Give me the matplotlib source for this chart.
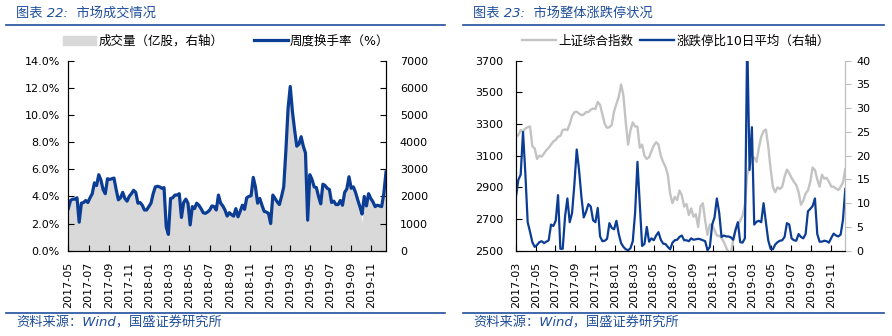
from matplotlib import pyplot as plt
import matplotlib.dates as mdates
from matplotlib.lines import Line2D
from matplotlib.patches import Patch
from matplotlib.ticker import FuncFormatter, MultipleLocator
import pandas as pd

plt.rcParams['font.family'] = ['DejaVu Sans', 'Noto Sans CJK SC']

# 图表22: 周度换手率 (%) 和 成交量 (亿股)
turnover = [3.1, 3.7, 3.8, 3.8, 3.9, 2.1, 3.5, 3.55, 3.7, 3.55,
            3.9, 4.2, 5.0, 4.8, 5.6, 5.2, 4.5, 4.2, 5.3, 5.25,
            5.3, 5.35, 4.5, 3.75, 3.9, 4.3, 3.85, 3.65, 4.0, 4.2,
            4.45, 4.3, 3.5, 3.55, 3.35, 3.0, 3.0, 3.25, 3.5, 4.2,
            4.7, 4.75, 4.7, 4.6, 4.65, 1.75, 1.2, 3.85, 3.9, 4.1,
            4.1, 4.2, 2.45, 3.55, 3.8, 3.5, 1.9, 3.25, 3.1, 3.5,
            3.35, 3.1, 2.8, 2.75, 2.85, 3.0, 3.3, 3.25, 3.0, 4.1,
            3.5, 3.3, 3.0, 2.55, 2.8, 2.65, 2.55, 3.1, 2.5, 2.9,
            3.35, 3.05, 3.9, 4.0, 4.05, 5.4, 4.7, 3.5, 3.85, 3.35,
            2.9, 2.85, 2.75, 2.0, 4.1, 3.85, 3.6, 3.4, 4.0, 4.7,
            7.4, 10.5, 12.1, 10.25, 8.9, 7.7, 7.85, 8.4, 7.7, 7.2,
            2.25, 5.6, 5.25, 4.7, 4.65, 4.0, 3.45, 4.9, 4.8, 4.6,
            4.5, 3.55, 3.65, 3.4, 3.4, 3.7, 3.35, 4.3, 4.55, 5.45,
            4.6, 4.7, 4.3, 3.75, 3.25, 2.7, 4.0, 3.3, 4.2, 3.85,
            3.6, 3.25, 3.35, 3.3, 3.25, 4.2, 5.8]
volume = [1520, 1830, 1880, 1880, 1920, 1030, 1730, 1750, 1820, 1750,
          1920, 2080, 2450, 2380, 2760, 2570, 2220, 2070, 2620, 2600,
          2620, 2640, 2220, 1850, 1930, 2120, 1900, 1800, 1970, 2080,
          2200, 2120, 1720, 1750, 1650, 1470, 1480, 1600, 1730, 2080,
          2320, 2350, 2320, 2280, 2300, 850, 580, 1900, 1920, 2020,
          2030, 2070, 1200, 1750, 1880, 1720, 920, 1600, 1530, 1720,
          1650, 1530, 1380, 1350, 1400, 1480, 1630, 1600, 1480, 2020,
          1720, 1620, 1480, 1250, 1380, 1300, 1250, 1530, 1230, 1430,
          1650, 1500, 1920, 1980, 2000, 2670, 2320, 1720, 1900, 1650,
          1430, 1400, 1350, 980, 2020, 1900, 1780, 1680, 1980, 2320,
          3650, 5200, 5980, 5080, 4400, 3800, 3880, 4150, 3800, 3560,
          1100, 2770, 2600, 2320, 2300, 1970, 1700, 2420, 2370, 2280,
          2220, 1750, 1800, 1680, 1680, 1830, 1650, 2120, 2250, 2700,
          2280, 2320, 2120, 1850, 1600, 1030, 1970, 1630, 2150, 1900,
          1780, 1600, 1650, 1630, 1600, 2070, 2870]

# 图表23: 上证综合指数 和 涨跌停比10日平均
sh_index = [3220, 3230, 3262, 3252, 3272, 3280, 3285, 3160, 3146, 3080,
            3100, 3094, 3115, 3135, 3150, 3170, 3190, 3200, 3220, 3225,
            3262, 3266, 3262, 3300, 3350, 3375, 3378, 3366, 3356, 3360,
            3376, 3375, 3390, 3398, 3395, 3440, 3420, 3360, 3300, 3276,
            3280, 3295, 3380, 3428, 3473, 3550, 3480, 3310, 3170, 3260,
            3310, 3285, 3283, 3150, 3170, 3100, 3080, 3090, 3130, 3165,
            3185, 3170, 3100, 3060, 3030, 2980, 2860, 2800, 2840, 2820,
            2880, 2850, 2778, 2795, 2725, 2767, 2715, 2730, 2650, 2780,
            2800, 2690, 2600, 2665, 2665, 2630, 2595, 2595, 2580, 2555,
            2520, 2490, 2480, 2570, 2630, 2660, 2690, 2720, 2790, 2980,
            3030, 3080, 3090, 3060, 3150, 3220, 3255, 3265, 3160, 3020,
            2904, 2870, 2900, 2890, 2905, 2967, 3012, 2990, 2960, 2935,
            2915, 2870, 2790, 2815, 2862, 2880, 2935, 3025, 3010, 2950,
            2904, 2980, 2955, 2960, 2935, 2905, 2904, 2893, 2883, 2904,
            2930, 3015]
limit_ratio = [11.4, 14.9, 16.0, 25.0, 16.3, 6.0, 4.0, 1.8, 0.8, 1.2,
               1.8, 2.0, 1.6, 1.9, 2.2, 5.5, 5.2, 6.3, 11.7, 0.4,
               0.4, 7.2, 11.0, 6.0, 7.9, 14.0, 21.3, 17.0, 11.4, 7.0,
               8.2, 9.8, 9.3, 6.4, 6.0, 9.0, 3.0, 2.0, 2.1, 2.5,
               5.8, 4.8, 4.5, 6.3, 3.5, 1.6, 0.8, 0.3, 0.1, 0.5,
               2.0, 8.0, 18.7, 10.0, 1.0, 1.4, 5.0, 1.9, 2.6, 2.2,
               3.2, 3.9, 2.3, 1.5, 1.4, 0.8, 0.3, 1.7, 2.2, 2.3,
               2.9, 3.2, 2.2, 2.2, 2.0, 2.6, 2.3, 2.4, 2.5, 2.4,
               2.2, 2.0, 0.1, 0.8, 5.5, 7.0, 11.0, 8.0, 2.9, 3.2,
               3.0, 3.0, 2.8, 2.3, 4.4, 6.0, 1.8, 1.7, 2.6, 45.0,
               17.0, 26.0, 5.5, 6.1, 6.3, 6.0, 10.0, 6.0, 2.2, 0.4,
               0.3, 1.3, 1.8, 2.1, 2.2, 2.9, 5.8, 5.5, 2.6, 2.2,
               2.1, 3.5, 2.9, 2.6, 3.5, 8.3, 8.8, 9.4, 11.0, 3.5,
               1.9, 1.9, 2.1, 2.0, 1.7, 2.7, 3.6, 3.2, 3.0, 3.4,
               6.5, 13.0]
index_ticks = [2500, 2700, 2900, 3100, 3300, 3500, 3700]

BLUE = '#0b3d94'
TITLE_BLUE = '#1f4e9c'
W, H = 892, 336

fig = plt.figure(figsize=(W / 100, H / 100), dpi=100)

month_loc = mdates.MonthLocator(bymonth=[1, 3, 5, 7, 9, 11])
month_fmt = mdates.DateFormatter('%Y-%m')

# ---------------- 左图 ----------------
dates_left = pd.date_range('2017-05-01', '2019-12-15', periods=len(turnover))
ax_l = fig.add_axes([68.3 / W, 1 - 250.7 / H, (386 - 68.3) / W, 190 / H])
ax_v = ax_l.twinx()
ax_v.fill_between(dates_left, volume, color='#d9d9d9', lw=0)
ax_l.plot(dates_left, turnover, color=BLUE, lw=2.3)
ax_l.set_zorder(ax_v.get_zorder() + 1)
ax_l.patch.set_visible(False)

ax_l.set_ylim(0, 14)
ax_l.yaxis.set_major_locator(MultipleLocator(2))
ax_l.yaxis.set_major_formatter(FuncFormatter(lambda v, p: '%.1f%%' % v))
ax_v.set_ylim(0, 7000)
ax_v.yaxis.set_major_locator(MultipleLocator(1000))
ax_l.set_xlim(pd.Timestamp('2017-05-01'), pd.Timestamp('2019-12-15'))
ax_l.xaxis.set_major_locator(month_loc)
ax_l.xaxis.set_major_formatter(month_fmt)
for a in (ax_l, ax_v):
    a.spines['top'].set_visible(False)
ax_l.tick_params(axis='both', direction='in', length=4, labelsize=8)
ax_l.tick_params(axis='y', pad=6)
ax_l.tick_params(axis='x', pad=8, labelrotation=90)
ax_v.tick_params(axis='y', direction='in', length=4, labelsize=8, pad=10)

fig.legend(handles=[Patch(color='#d9d9d9', label='成交量（亿股，右轴）'),
                    Line2D([], [], color=BLUE, lw=2.3, label='周度换手率（%）')],
           loc='center', bbox_to_anchor=(226 / W, 1 - 41 / H), ncol=2,
           frameon=False, fontsize=9, handlelength=2.7, columnspacing=2.4,
           handletextpad=0.2)

# ---------------- 右图 ----------------
dates_right = pd.date_range('2017-03-01', '2019-12-16', periods=len(sh_index))
ax_r = fig.add_axes([516 / W, 1 - 250.7 / H, (845.3 - 516) / W, 190 / H])
ax_r2 = ax_r.twinx()
ax_r.plot(dates_right, sh_index, color='#c3c3c3', lw=1.7)
ax_r2.plot(dates_right, limit_ratio, color=BLUE, lw=1.6)

ax_r.set_ylim(2500, 3700)
ax_r.set_yticks(index_ticks)
ax_r2.set_ylim(0, 40)
ax_r2.yaxis.set_major_locator(MultipleLocator(5))
ax_r.set_xlim(pd.Timestamp('2017-03-01'), pd.Timestamp('2019-12-16'))
ax_r.xaxis.set_major_locator(month_loc)
ax_r.xaxis.set_major_formatter(month_fmt)
for a in (ax_r, ax_r2):
    a.spines['top'].set_visible(False)
ax_r2.spines['right'].set_color('#bfbfbf')
ax_r.spines['right'].set_color('#bfbfbf')
ax_r.tick_params(axis='both', direction='in', length=4, labelsize=8)
ax_r.tick_params(axis='y', pad=9)
ax_r.tick_params(axis='x', pad=8, labelrotation=90)
ax_r2.tick_params(axis='y', direction='out', length=4, labelsize=8, pad=4,
                  color='#bfbfbf')

fig.legend(handles=[Line2D([], [], color='#c3c3c3', lw=1.7, label='上证综合指数'),
                    Line2D([], [], color=BLUE, lw=1.7, label='涨跌停比10日平均（右轴）')],
           loc='center', bbox_to_anchor=(676 / W, 1 - 41 / H), ncol=2,
           frameon=False, fontsize=9, handlelength=2.7, columnspacing=0.5,
           handletextpad=0.2)

# ---------------- 标题、分隔线、来源 ----------------
for x0, x1, num, name in [(6, 445, '22', '市场成交情况'), (463, 884, '23', '市场整体涨跌停状况')]:
    fig.text((x0 + 10) / W, 1 - 13 / H, '图表 %s:  %s' % (num, name), color=TITLE_BLUE,
             fontsize=9.5, va='center', ha='left', style='italic')
    fig.add_artist(Line2D([x0 / W, x1 / W], [1 - 25 / H] * 2, color=TITLE_BLUE, lw=1.2,
                          transform=fig.transFigure))
    fig.add_artist(Line2D([x0 / W, x1 / W], [1 - 313 / H] * 2, color=TITLE_BLUE, lw=1.2,
                          transform=fig.transFigure))
    fig.text((x0 + 10) / W, 1 - 323 / H, '资料来源：Wind，国盛证券研究所', color=TITLE_BLUE,
             fontsize=9.5, va='center', ha='left', style='italic')

plt.savefig('out.png', dpi=100)
